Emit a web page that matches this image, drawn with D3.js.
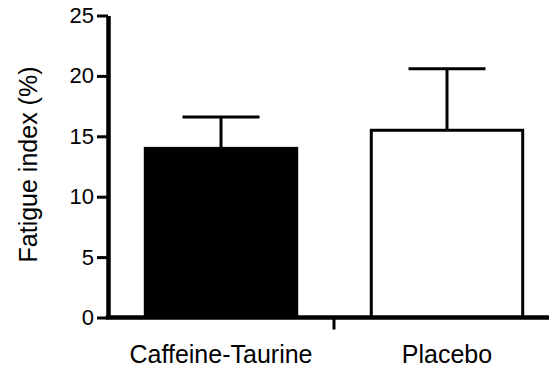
<!DOCTYPE html>
<html>
<head>
<meta charset="utf-8">
<script src="https://cdn.jsdelivr.net/npm/d3@7"></script>
<style>
  html, body { margin: 0; padding: 0; background: #fff; }
  svg { display: block; font-family: "Liberation Sans", Arial, sans-serif; }
</style>
</head>
<body>
<svg id="chart" width="549" height="374"></svg>
<script>
const categories = ["Caffeine-Taurine", "Placebo"];
const means = [14.0, 15.5];
const upperErr = [16.6, 20.6];
const fills = ["#000", "#fff"];
const yTicks = [0, 5, 10, 15, 20, 25];

function renderChart() {
    const svg = d3.select("#chart");
    svg.selectAll("*").remove();

    const x = d3.scaleBand()
        .domain(categories)
        .range([108, 560])
        .paddingInner(0.33)
        .paddingOuter(0.165);

    const y = d3.scaleLinear()
        .domain([0, 25])
        .range([317.5, 15.5]);

    // bars
    svg.append("g")
        .selectAll("rect")
        .data(categories)
        .join("rect")
        .attr("x", d => x(d))
        .attr("y", (d, i) => y(means[i]))
        .attr("width", x.bandwidth())
        .attr("height", (d, i) => y(0) - y(means[i]))
        .attr("fill", (d, i) => fills[i])
        .attr("stroke", "#000")
        .attr("stroke-width", 3);

    // upper error bars
    const err = svg.append("g")
        .attr("stroke", "#000")
        .attr("stroke-width", 3);
    err.selectAll("line.stem")
        .data(categories)
        .join("line")
        .attr("class", "stem")
        .attr("x1", d => x(d) + x.bandwidth() / 2)
        .attr("x2", d => x(d) + x.bandwidth() / 2)
        .attr("y1", (d, i) => y(means[i]))
        .attr("y2", (d, i) => y(upperErr[i]));
    err.selectAll("line.cap")
        .data(categories)
        .join("line")
        .attr("class", "cap")
        .attr("x1", d => x(d) + x.bandwidth() / 2 - 38.5)
        .attr("x2", d => x(d) + x.bandwidth() / 2 + 38.5)
        .attr("y1", (d, i) => y(upperErr[i]))
        .attr("y2", (d, i) => y(upperErr[i]));

    // y axis
    const yAxis = svg.append("g")
        .attr("transform", "translate(108,0)")
        .call(d3.axisLeft(y).tickValues(yTicks).tickSize(11).tickPadding(3).tickSizeOuter(0));
    yAxis.select(".domain").attr("stroke-width", 4.5);
    yAxis.selectAll(".tick line").attr("stroke-width", 3);
    yAxis.selectAll(".tick text")
        .attr("font-size", 22)
        .attr("font-family", "Liberation Sans, Arial, sans-serif")
        .attr("fill", "#000");

    // x axis
    const xAxis = svg.append("g")
        .attr("transform", `translate(0,${y(0)})`)
        .call(d3.axisBottom(x).tickSize(0).tickPadding(28).tickSizeOuter(0));
    xAxis.select(".domain").attr("stroke-width", 4.5).attr("d", "M105.75,0H549");
    xAxis.selectAll(".tick text")
        .attr("font-size", 25)
        .attr("font-family", "Liberation Sans, Arial, sans-serif")
        .attr("fill", "#000");

    // separator tick between the two groups
    const mid = (x(categories[0]) + x.bandwidth() + x(categories[1])) / 2;
    xAxis.append("line")
        .attr("x1", mid)
        .attr("x2", mid)
        .attr("y1", 0)
        .attr("y2", 12)
        .attr("stroke", "#000")
        .attr("stroke-width", 3);

    // y label
    svg.append("text")
        .attr("transform", "translate(36.5,164.5) rotate(-90)")
        .attr("text-anchor", "middle")
        .attr("font-size", 25)
        .attr("fill", "#000")
        .text("Fatigue index (%)");
}

renderChart();
</script>
</body>
</html>
